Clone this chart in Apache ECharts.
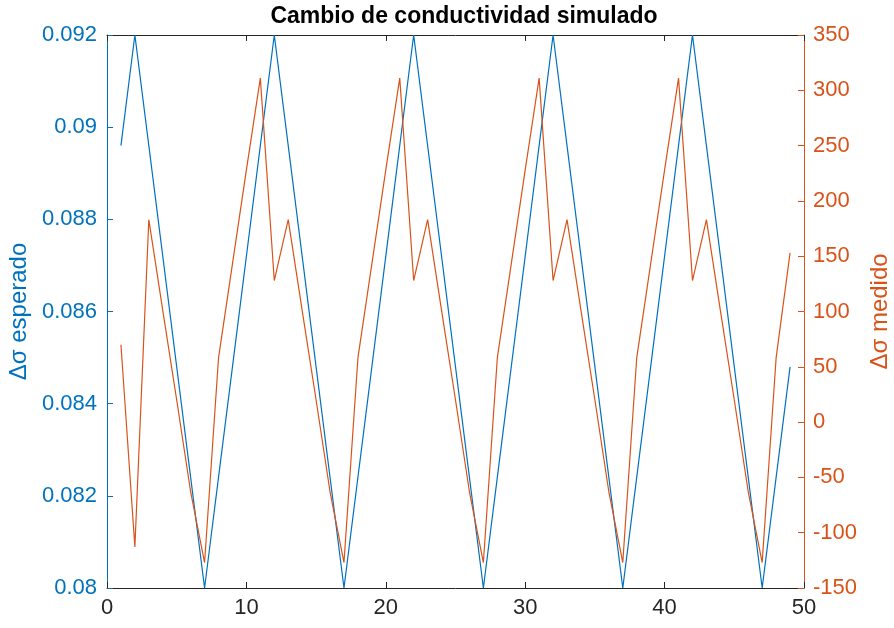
<!DOCTYPE html>
<html>
<head>
<meta charset="utf-8">
<style>
  html, body { margin: 0; padding: 0; background: #fff; }
  #chart { width: 894px; height: 628px; }
</style>
<script src="https://cdn.jsdelivr.net/npm/echarts@6/dist/echarts.min.js"></script>
</head>
<body>
<div id="chart"></div>
<script>
// Sample index (x axis)
const samples = [1,2,3,4,5,6,7,8,9,10,11,12,13,14,15,16,17,18,19,20,21,22,23,24,25,26,27,28,29,30,31,32,33,34,35,36,37,38,39,40,41,42,43,44,45,46,47,48,49];

// Expected conductivity change (left axis)
const esperado = [
  0.0896, 0.0920, 0.0896, 0.0872, 0.0848, 0.0824, 0.0800, 0.0824, 0.0848, 0.0872,
  0.0896, 0.0920, 0.0896, 0.0872, 0.0848, 0.0824, 0.0800, 0.0824, 0.0848, 0.0872,
  0.0896, 0.0920, 0.0896, 0.0872, 0.0848, 0.0824, 0.0800, 0.0824, 0.0848, 0.0872,
  0.0896, 0.0920, 0.0896, 0.0872, 0.0848, 0.0824, 0.0800, 0.0824, 0.0848, 0.0872,
  0.0896, 0.0920, 0.0896, 0.0872, 0.0848, 0.0824, 0.0800, 0.0824, 0.0848
];

// Measured conductivity change (right axis)
const medido = [
  70, -113, 183, 101, 20, -63, -127, 58, 143, 228,
  311, 128, 183, 101, 20, -63, -127, 58, 143, 228,
  311, 128, 183, 101, 20, -63, -127, 58, 143, 228,
  311, 128, 183, 101, 20, -63, -127, 58, 143, 228,
  311, 128, 183, 101, 20, -63, -127, 58, 153
];

const BLUE = '#0072BD';
const ORANGE = '#D95319';
const AXIS_DARK = '#262626';
const FONT = 'Liberation Sans, Arial, sans-serif';

const chart = echarts.init(document.getElementById('chart'), null, { renderer: 'canvas' });

chart.setOption({
  backgroundColor: '#ffffff',
  animation: false,
  title: {
    text: 'Cambio de conductividad simulado',
    left: 459, top: 0, textAlign: 'center',
    textStyle: { fontFamily: FONT, fontSize: 23, fontWeight: 'bold', color: '#000' }
  },
  grid: {
    left: 107, right: 90, top: 35, bottom: 40,
    containLabel: false, outerBoundsMode: 'none'
  },
  xAxis: [
    {
      type: 'value', min: 0, max: 50, interval: 10, position: 'bottom',
      axisLine: { onZero: false, lineStyle: { color: AXIS_DARK, width: 1 } },
      axisTick: { inside: true, length: 6, lineStyle: { color: AXIS_DARK } },
      axisLabel: { fontFamily: FONT, fontSize: 22, color: AXIS_DARK, margin: 9 },
      splitLine: { show: false }
    },
    {
      type: 'value', min: 0, max: 50, interval: 10, position: 'top',
      axisLine: { onZero: false, lineStyle: { color: AXIS_DARK, width: 1 } },
      axisTick: { inside: true, length: 6, lineStyle: { color: AXIS_DARK } },
      axisLabel: { show: false },
      splitLine: { show: false }
    }
  ],
  yAxis: [
    {
      type: 'value', min: 0.08, max: 0.092, interval: 0.002, position: 'left',
      name: 'Δσ esperado', nameLocation: 'middle', nameGap: 41, nameRotate: 90,
      nameTextStyle: { fontFamily: FONT, fontSize: 24, color: BLUE },
      axisLine: { show: true, onZero: false, lineStyle: { color: BLUE, width: 1 } },
      axisTick: { show: true, inside: true, length: 6, lineStyle: { color: BLUE } },
      axisLabel: {
        fontFamily: FONT, fontSize: 22, color: BLUE, margin: 10,
        formatter: v => String(parseFloat(v.toFixed(3)))
      },
      splitLine: { show: false }
    },
    {
      type: 'value', min: -150, max: 350, interval: 50, position: 'right',
      name: 'Δσ medido', nameLocation: 'middle', nameGap: 46, nameRotate: 90,
      nameTextStyle: { fontFamily: FONT, fontSize: 24, color: ORANGE },
      axisLine: { show: true, onZero: false, lineStyle: { color: ORANGE, width: 1 } },
      axisTick: { show: true, inside: true, length: 6, lineStyle: { color: ORANGE } },
      axisLabel: { fontFamily: FONT, fontSize: 22, color: ORANGE, margin: 9 },
      splitLine: { show: false }
    }
  ],
  series: [
    {
      name: 'Δσ esperado', type: 'line', xAxisIndex: 0, yAxisIndex: 0,
      data: samples.map((x, i) => [x, esperado[i]]),
      showSymbol: false, lineStyle: { color: BLUE, width: 1.2 }
    },
    {
      name: 'Δσ medido', type: 'line', xAxisIndex: 0, yAxisIndex: 1,
      data: samples.map((x, i) => [x, medido[i]]),
      showSymbol: false, lineStyle: { color: ORANGE, width: 1.2 }
    }
  ]
});
</script>
</body>
</html>
